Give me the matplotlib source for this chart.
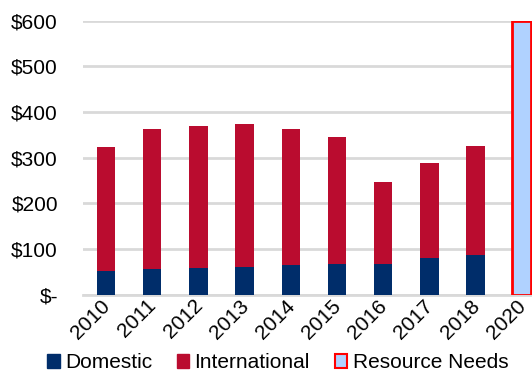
import numpy as np
import matplotlib.pyplot as plt
from matplotlib.patches import Patch
from matplotlib.transforms import ScaledTranslation

plt.rcParams['font.family'] = ['Liberation Sans', 'DejaVu Sans']

# funding by year ($ millions)
years = ['2010', '2011', '2012', '2013', '2014', '2015', '2016', '2017', '2018', '2020']
domestic = [51, 56, 59, 61, 64, 68, 67, 80, 86, 0]
international = [273, 307, 310, 313, 298, 277, 179, 209, 239, 0]
resource_needs = [0, 0, 0, 0, 0, 0, 0, 0, 0, 600]

navy = '#002D6A'
crimson = '#BA0C2F'
light_blue = '#B0D2FF'

fig = plt.figure(figsize=(5.32, 3.73), dpi=100)
ax = fig.add_axes([0.156, 0.21, 0.868, 0.735])

x = np.arange(len(years))
w = 0.4
dom = np.array(domestic)
intl = np.array(international)
need = np.array(resource_needs)

ax.bar(x[:-1], dom[:-1], w, color=navy, zorder=3)
ax.bar(x[:-1], intl[:-1], w, bottom=dom[:-1], color=crimson, zorder=3)
ax.bar(x[-1:], need[-1:], w, color=light_blue, edgecolor='#FF0000', linewidth=2, zorder=3)

ax.set_xlim(-0.5, len(years) - 0.5)
ax.set_ylim(0, 600)
ax.set_yticks(range(0, 601, 100))
ax.set_yticklabels(['$-'] + [f'${v}' for v in range(100, 601, 100)], fontsize=15)
ax.yaxis.grid(True, color='#D9D9D9', linewidth=2)
ax.set_axisbelow(True)
ax.tick_params(axis='y', length=0, pad=18)
ax.tick_params(axis='x', length=0, pad=1)
ax.set_xticks(x)
ax.set_xticklabels(years, rotation=45, ha='right', rotation_mode='anchor', fontsize=15)
shift = ScaledTranslation(-4 / 72, 0, fig.dpi_scale_trans)
for lbl in ax.get_xticklabels():
    lbl.set_transform(lbl.get_transform() + shift)
for s in ['top', 'right', 'left']:
    ax.spines[s].set_visible(False)
ax.spines['bottom'].set_color('#D9D9D9')
ax.spines['bottom'].set_linewidth(2)

handles = [Patch(facecolor=navy, edgecolor=navy),
           Patch(facecolor=crimson, edgecolor=crimson),
           Patch(facecolor=light_blue, edgecolor='#FF0000', linewidth=1.5)]
fig.legend(handles, ['Domestic', 'International', 'Resource Needs'],
           loc='center', bbox_to_anchor=(0.522, 0.027), ncol=3, frameon=False,
           fontsize=15, handlelength=0.6, handleheight=0.6, handletextpad=0.25,
           columnspacing=1.2, borderaxespad=0)

fig.savefig('out.png', dpi=100)
